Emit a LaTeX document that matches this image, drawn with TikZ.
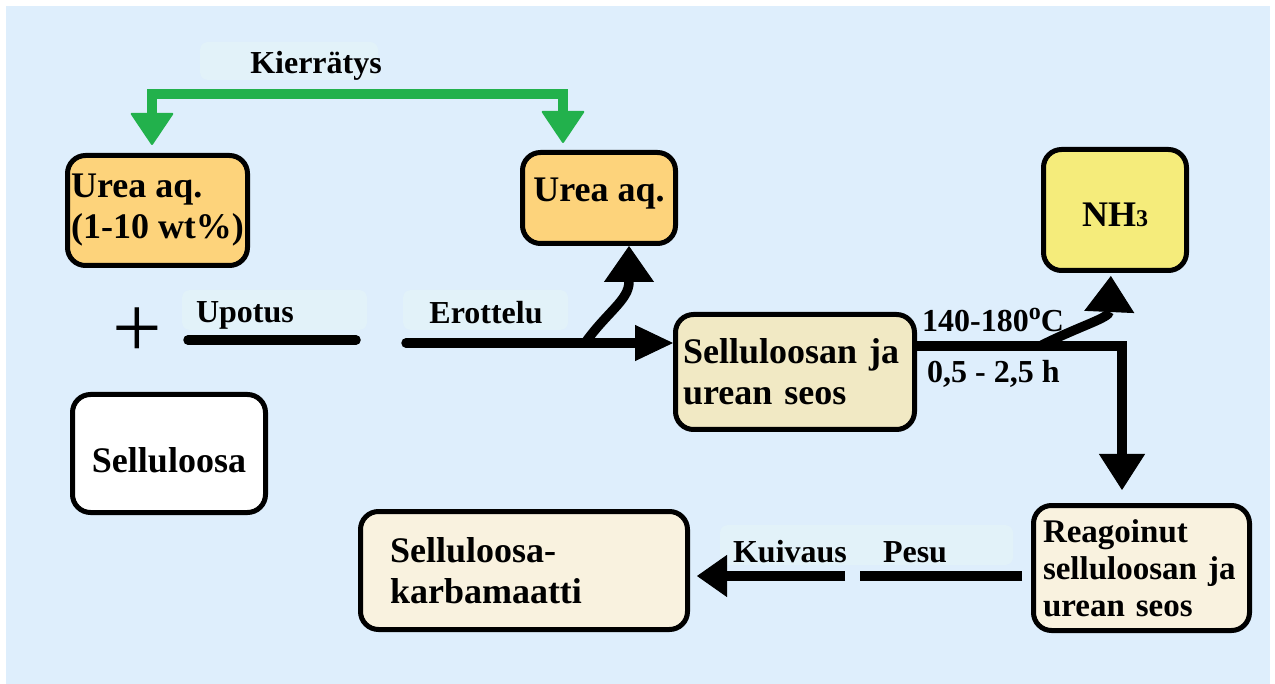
\documentclass[tikz,border=0pt]{standalone}
\usepackage{fontspec}
\setmainfont{Liberation Serif}
\usetikzlibrary{arrows.meta}

\definecolor{bgblue}{HTML}{DEEEFC}
\definecolor{hilite}{HTML}{E2F2F9}
\definecolor{ureaorange}{HTML}{FDD37B}
\definecolor{nhyellow}{HTML}{F5EC7B}
\definecolor{mixbeige}{HTML}{F1E9C4}
\definecolor{cream}{HTML}{F9F2DF}
\definecolor{recyclegreen}{HTML}{22B14C}

\newcommand\boxfont{\fontsize{36}{41}\selectfont\bfseries}
\newcommand\smallboxfont{\fontsize{33}{37}\selectfont\bfseries}
\newcommand\lblfont{\fontsize{32}{36}\selectfont\bfseries}
% shift text vertically without changing the size it takes up
\newcommand\nudge[2]{\raisebox{#1}[\height][\depth]{#2}}

\begin{document}
\begin{tikzpicture}[x=1pt,y=-1pt,
  box/.style={draw=black, line width=5pt, rounded corners=18pt, inner sep=0pt,
    font=\boxfont, align=left},
  lbl/.style={font=\lblfont, inner sep=0pt},
  flow/.style={draw=black, line width=9.5pt},
  recycle/.style={draw=recyclegreen, line width=10pt},
  bigtip/.style={-{Triangle[width=#1, length=36pt, line width=1pt]}},
]
\useasboundingbox (0,0) rectangle (1275,684);
\fill[white] (0,0) rectangle (1275,684);
\fill[bgblue] (6,6) rectangle (1270,684);

% faint label backgrounds
\fill[hilite, rounded corners=8pt] (200,42) rectangle (378,80);
\fill[hilite, rounded corners=8pt] (182,290) rectangle (367,330);
\fill[hilite, rounded corners=8pt] (403,290) rectangle (568,330);
\fill[hilite, rounded corners=8pt] (720,525) rectangle (1013,565);

% boxes
\node[box, fill=ureaorange, minimum width=180pt, minimum height=110pt]
  (ureaA) at (157.5,210.5) {Urea aq.\\(1-10 wt\%)};
\node[box, fill=ureaorange, minimum width=153pt, minimum height=91pt]
  (ureaB) at (599,198) {\nudge{4pt}{Urea aq.}};
\node[box, fill=nhyellow, minimum width=143pt, minimum height=121pt]
  (nh3) at (1115,210) {\nudge{-5pt}{NH{\fontsize{24}{24}\selectfont 3}}};
\node[box, fill=mixbeige, minimum height=115pt, inner xsep=7.5pt, text width=224pt]
  (mix) at (795,372) {Selluloosan ja\\urean seos};
\node[box, fill=white, minimum width=193pt, minimum height=118pt]
  (sell) at (169,453.5) {\nudge{-7pt}{Selluloosa}};
\node[box, fill=cream, minimum height=118pt, inner xsep=29.5pt, text width=268pt]
  (karb) at (524,570.5) {Selluloosa-\\karbamaatti};
\node[box, fill=cream, font=\smallboxfont, minimum height=125pt, inner xsep=9.5pt, text width=197pt]
  (reag) at (1141.5,568) {Reagoinut\\selluloosan ja\\urean seos};

% plus sign
\node[font=\fontsize{88}{88}\selectfont, inner sep=0pt] (plus) at (137,333) {+};

% labels
\node[lbl, anchor=base] (kier) at (316,74) {Kierrätys};
\node[lbl, anchor=base] (upo) at (245,323) {Upotus};
\node[lbl, anchor=base] (ero) at (486,324) {Erottelu};
\node[lbl, anchor=base west] (temp) at (922,332)
  {140-180\raisebox{12pt}{\fontsize{24}{24}\selectfont o}C};
\node[lbl, anchor=base west] (time) at (927,383) {0,5 - 2,5 h};
\node[lbl, anchor=base] (kui) at (790,562) {Kuivaus};
\node[lbl, anchor=base] (pesu) at (915,562) {Pesu};

% junction and free-end points
\coordinate (upL) at (188,340);
\coordinate (upR) at (356,340);
\coordinate (erL) at (406,343);
\coordinate (split) at (585,343);
\coordinate (turn) at (1122,346);
\coordinate (nsplit) at (1042,345);
\coordinate (pR) at (1022,576);
\coordinate (pL) at (860,576);
\coordinate (kR) at (845,576);
\coordinate (gTop) at (350,94);
\coordinate (gA) at ([xshift=-5.5pt,yshift=8pt]ureaA.north);
\coordinate (gB) at ([xshift=-36pt,yshift=7pt]ureaB.north);

% recycling loop
\draw[recycle, {Triangle[width=44pt,length=33pt,line width=2pt,round]}-{Triangle[width=44pt,length=33pt,line width=2pt,round]}]
  (gA) -- (gA |- gTop) -- (gB |- gTop) -- (gB);

% immersion and separation
\draw[flow, line cap=round] (upL) -- (upR);
\draw[flow, line cap=round, -{Triangle[width=36pt,length=38pt,line width=1pt]}]
  (erL) -- (erL -| mix.west);
\draw[flow, bigtip=50pt]
  (split) .. controls (607,312) and (629,300) .. ([xshift=30pt]ureaB.south);

% reaction
\draw[flow, bigtip=46pt, shorten >=13pt]
  (mix.east |- turn) -- (turn) -- (turn |- reag.north);
\draw[flow, bigtip=50pt, shorten >=3pt]
  (nsplit) .. controls (1080,326) and (1109,318) .. ([xshift=-4pt]nh3.south);

% washing and drying
\draw[flow] (pR) -- (pL);
\draw[flow, -{Triangle[width=42pt,length=30pt,line width=1pt]}, shorten >=7pt]
  (kR) -- (kR -| karb.east);
\end{tikzpicture}
\end{document}
